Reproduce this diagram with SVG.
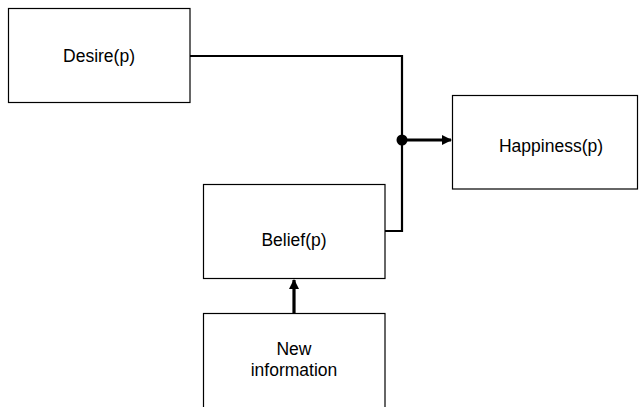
<svg xmlns="http://www.w3.org/2000/svg" width="639" height="407" viewBox="0 0 639 407">
<defs>
<style>
.box{fill:#fff;stroke:#000;stroke-width:1.2}
.lbl{font-family:"Liberation Sans",Arial,sans-serif;font-size:17.5px;fill:#000;text-anchor:middle}
.ln{fill:none;stroke:#000;stroke-width:2.2}
.ar{fill:none;stroke:#000;stroke-width:3.2}
</style>
<marker id="ah" viewBox="0 0 10 10" refX="9" refY="5" markerWidth="3.2" markerHeight="3.2" orient="auto" markerUnits="strokeWidth">
<path d="M0,0 L10,5 L0,10 z" fill="#000"/>
</marker>
</defs>
<rect width="639" height="407" fill="#fff"/>
<g id="connectors">
<path class="ln" d="M190,56 H402 V231 H385"/>
<circle cx="402" cy="140" r="5.5" fill="#000"/>
<line class="ar" x1="402" y1="140" x2="451" y2="140" marker-end="url(#ah)"/>
<line class="ar" x1="294" y1="313" x2="294" y2="280" marker-end="url(#ah)"/>
</g>
<g id="desire">
<rect class="box" x="8.5" y="8.5" width="181.5" height="94"/>
<text class="lbl" x="99" y="62">Desire(p)</text>
</g>
<g id="happiness">
<rect class="box" x="452.5" y="95.5" width="185" height="93.5"/>
<text class="lbl" x="551" y="152">Happiness(p)</text>
</g>
<g id="belief">
<rect class="box" x="203.5" y="184.5" width="181.5" height="94"/>
<text class="lbl" x="294" y="246">Belief(p)</text>
</g>
<g id="newinfo">
<rect class="box" x="203.5" y="313.5" width="181.5" height="100"/>
<text class="lbl" x="294" y="355">New</text>
<text class="lbl" x="294" y="376">information</text>
</g>
</svg>
